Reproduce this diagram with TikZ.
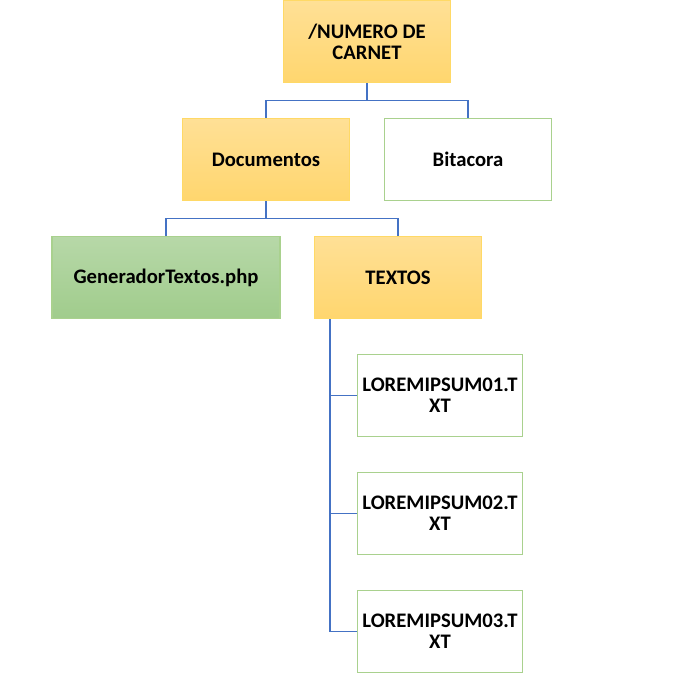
\documentclass[tikz,border=0pt]{standalone}
\usepackage{fontspec}
\setmainfont{Carlito}
\usepackage{tikz}
\usetikzlibrary{shapes,arrows}
\definecolor{orangeTop}{RGB}{255,224,150}
\definecolor{orangeBot}{RGB}{255,214,110}
\definecolor{orangeLine}{RGB}{255,217,102}
\definecolor{greenTop}{RGB}{183,216,168}
\definecolor{greenBot}{RGB}{160,204,140}
\definecolor{greenLine}{RGB}{169,209,142}
\definecolor{linkBlue}{RGB}{68,114,196}
\tikzstyle{box} = [rectangle, draw, line width=0.9pt, minimum width=125pt, minimum height=62pt, inner sep=2pt, align=center, font=\fontsize{15.5}{15.5}\selectfont\bfseries]
\tikzstyle{folder} = [box, draw=orangeLine, top color=orangeTop, bottom color=orangeBot]
\tikzstyle{script} = [box, draw=greenLine, top color=greenTop, bottom color=greenBot, minimum width=171pt]
\tikzstyle{file} = [box, draw=greenLine, fill=white, minimum width=124pt]
\tikzstyle{line} = [draw=linkBlue, line width=1pt]

\begin{document}
\begin{tikzpicture}[x=0.75pt, y=0.75pt, node distance = 88.5pt, auto]
    \useasboundingbox (0,0) rectangle (680,-675);
    \node [folder] (carnet) at (367,-41.5) {/NUMERO DE\\CARNET};
    \node [folder, below of=carnet, xshift=-75.75pt] (documentos) {Documentos};
    \node [file, below of=carnet, xshift=75.75pt, minimum width=125pt] (bitacora) {Bitacora};
    \node [script, below of=documentos, xshift=-75pt] (generador) {GeneradorTextos.php};
    \node [folder, below of=documentos, xshift=99pt] (textos) {TEXTOS};
    \node [file, below of=textos, xshift=31.5pt] (lorem1) {LOREMIPSUM01.T\\XT};
    \node [file, below of=lorem1] (lorem2) {LOREMIPSUM02.T\\XT};
    \node [file, below of=lorem2] (lorem3) {LOREMIPSUM03.T\\XT};
    \path [line] (carnet.south) -- ++(0,-17) coordinate (busA) -| (documentos.north);
    \path [line] (busA) -| (bitacora.north);
    \path [line] (documentos.south) -- ++(0,-17) coordinate (busB) -| (generador.north);
    \path [line] (busB) -| (textos.north);
    \path [line] (textos.south west) ++(16,0) coordinate (trunk) |- (lorem3.west);
    \path [line] (trunk |- lorem1.west) -- (lorem1.west);
    \path [line] (trunk |- lorem2.west) -- (lorem2.west);
  \end{tikzpicture}
\end{document}
